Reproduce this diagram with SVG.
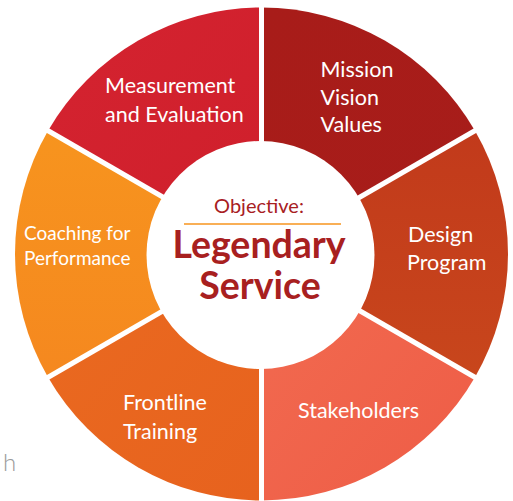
<svg xmlns="http://www.w3.org/2000/svg" width="513" height="501" viewBox="0 0 513 501">
  <style>
    .lbl { font-family: Lato, "Open Sans", "Liberation Sans", sans-serif; fill: #ffffff; font-size: 21.5px; }
    .small { font-size: 19px; }
    .core { font-family: Lato, "Open Sans", "Liberation Sans", sans-serif; fill: #a8201f; text-anchor: middle; }
    .gap { stroke: #ffffff; stroke-width: 5; }
  </style>
  <defs>
    <linearGradient id="gMeasure" x1="0" y1="0" x2="1" y2="1">
      <stop offset="0" stop-color="#d42330"/>
      <stop offset="1" stop-color="#cf1f2b"/>
    </linearGradient>
    <linearGradient id="gMission" x1="0" y1="0" x2="1" y2="1">
      <stop offset="0" stop-color="#a81c19"/>
      <stop offset="1" stop-color="#a71d1a"/>
    </linearGradient>
    <linearGradient id="gDesign" x1="0" y1="0" x2="0" y2="1">
      <stop offset="0" stop-color="#c23a1b"/>
      <stop offset="1" stop-color="#c8461c"/>
    </linearGradient>
    <linearGradient id="gStake" x1="0" y1="0" x2="1" y2="1">
      <stop offset="0" stop-color="#f26b50"/>
      <stop offset="1" stop-color="#ee5c46"/>
    </linearGradient>
    <linearGradient id="gFront" x1="0" y1="0" x2="1" y2="1">
      <stop offset="0" stop-color="#ea6a20"/>
      <stop offset="1" stop-color="#e7621e"/>
    </linearGradient>
    <linearGradient id="gCoach" x1="0" y1="0" x2="0" y2="1">
      <stop offset="0" stop-color="#f7941e"/>
      <stop offset="1" stop-color="#f5881f"/>
    </linearGradient>
  </defs>

  <rect width="513" height="501" fill="#ffffff"/>

  <!-- ring segments, centre (261.5,254), radius 246.5 -->
  <g id="measurement">
    <path d="M261.5 254 L48.02 130.75 A246.5 246.5 0 0 1 261.5 7.5 Z" fill="url(#gMeasure)"/>
    <text class="lbl" x="105" y="93">Measurement</text>
    <text class="lbl" x="105" y="121.5">and Evaluation</text>
  </g>
  <g id="mission">
    <path d="M261.5 254 L261.5 7.5 A246.5 246.5 0 0 1 474.98 130.75 Z" fill="url(#gMission)"/>
    <text class="lbl" x="320.5" y="77">Mission</text>
    <text class="lbl" x="320.5" y="105">Vision</text>
    <text class="lbl" x="320.5" y="132">Values</text>
  </g>
  <g id="design">
    <path d="M261.5 254 L474.98 130.75 A246.5 246.5 0 0 1 474.98 377.25 Z" fill="url(#gDesign)"/>
    <text class="lbl" x="408" y="242">Design</text>
    <text class="lbl" x="407" y="270">Program</text>
  </g>
  <g id="stakeholders">
    <path d="M261.5 254 L474.98 377.25 A246.5 246.5 0 0 1 261.5 500.5 Z" fill="url(#gStake)"/>
    <text class="lbl" x="298" y="418">Stakeholders</text>
  </g>
  <g id="frontline">
    <path d="M261.5 254 L261.5 500.5 A246.5 246.5 0 0 1 48.02 377.25 Z" fill="url(#gFront)"/>
    <text class="lbl" x="123" y="410">Frontline</text>
    <text class="lbl" x="123" y="439">Training</text>
  </g>
  <g id="coaching">
    <path d="M261.5 254 L48.02 377.25 A246.5 246.5 0 0 1 48.02 130.75 Z" fill="url(#gCoach)"/>
    <text class="lbl small" x="24" y="240">Coaching for</text>
    <text class="lbl small" x="24" y="265">Performance</text>
  </g>

  <!-- white separators between segments -->
  <g id="connectors">
    <line class="gap" x1="261.5" y1="254" x2="261.5" y2="0"/>
    <line class="gap" x1="261.5" y1="254" x2="261.5" y2="510"/>
    <line class="gap" x1="261.5" y1="254" x2="490" y2="122"/>
    <line class="gap" x1="261.5" y1="254" x2="490" y2="386"/>
    <line class="gap" x1="261.5" y1="254" x2="33" y2="386"/>
    <line class="gap" x1="261.5" y1="254" x2="33" y2="122"/>
  </g>

  <!-- central objective -->
  <g id="objective">
    <circle cx="260.5" cy="255" r="114" fill="#ffffff"/>
    <text class="core" x="259" y="213" font-size="20">Objective:</text>
    <line x1="184" y1="224" x2="341" y2="224" stroke="#f7941e" stroke-width="1.5"/>
    <text class="core" x="259" y="258" font-size="37.5" font-weight="bold">Legendary</text>
    <text class="core" x="260" y="299" font-size="37.5" font-weight="bold">Service</text>
  </g>

  <text x="3" y="471" font-family="Lato, 'Open Sans', sans-serif" font-weight="300" font-size="24" fill="#9a9a9a">h</text>
</svg>
